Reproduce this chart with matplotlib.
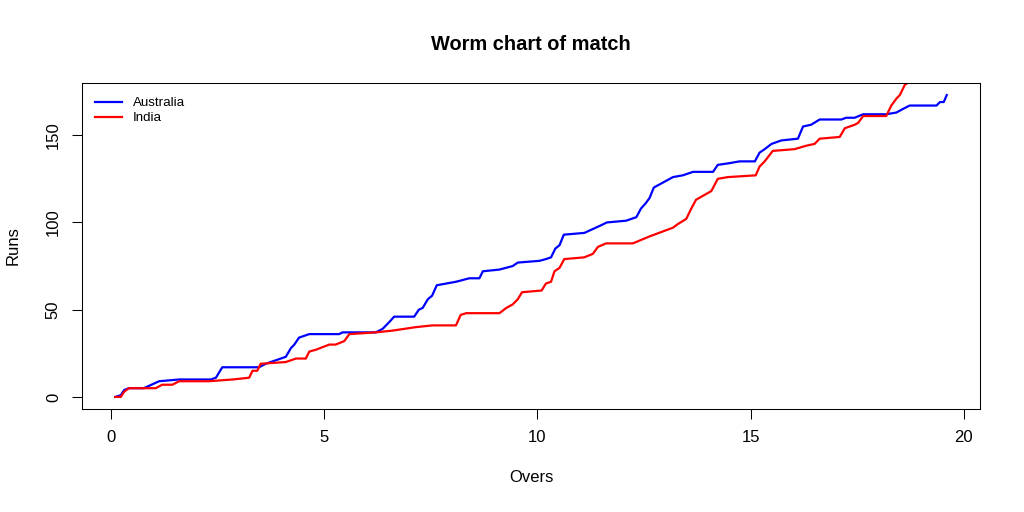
import matplotlib
matplotlib.use("Agg")
import matplotlib.pyplot as plt

plt.rcParams["font.family"] = ["Liberation Sans", "DejaVu Sans"]

aus_overs = [0.1, 0.23, 0.31, 0.42, 0.77, 0.95, 1.13, 1.6, 2.34, 2.46, 2.61, 3.47, 3.63, 4.1,
             4.22, 4.3, 4.41, 4.65, 5.35, 5.43, 6.21, 6.37, 6.53, 6.64, 7.11, 7.22, 7.31, 7.43,
             7.53, 7.64, 8.09, 8.25, 8.40, 8.64, 8.72, 9.11, 9.42, 9.54, 10.05, 10.2, 10.32,
             10.42, 10.52, 10.62, 11.1, 11.46, 11.63, 12.08, 12.32, 12.43, 12.54, 12.63, 12.73,
             13.18, 13.41, 13.65, 14.12, 14.23, 14.51, 14.74, 15.1, 15.21, 15.33, 15.49, 15.72,
             16.11, 16.23, 16.42, 16.62, 17.13, 17.24, 17.44, 17.64, 18.18, 18.42, 18.57, 18.73,
             19.36, 19.44, 19.53, 19.6]
aus_runs = [0, 1, 4, 5, 5, 7, 9, 10, 10, 11, 17, 17, 19, 23,
            28, 30, 34, 36, 36, 37, 37, 39, 43, 46, 46, 50, 51, 56,
            58, 64, 66, 67, 68, 68, 72, 73, 75, 77, 78, 79, 80,
            85, 87, 93, 94, 98, 100, 101, 103, 108, 111, 114, 120,
            126, 127, 129, 129, 133, 134, 135, 135, 140, 142, 145, 147,
            148, 155, 156, 159, 159, 160, 160, 162, 162, 163, 165, 167,
            167, 169, 169, 173]

ind_overs = [0.1, 0.23, 0.31, 0.42, 1.05, 1.2, 1.44, 1.6, 2.3, 2.85, 3.24, 3.32, 3.43, 3.51,
             4.1, 4.34, 4.57, 4.65, 4.8, 5.12, 5.27, 5.47, 5.59, 6.21, 6.6, 7.15, 7.54, 8.09,
             8.2, 8.33, 9.11, 9.27, 9.42, 9.54, 9.64, 10.1, 10.2, 10.32, 10.4, 10.52, 10.63,
             11.1, 11.3, 11.42, 11.61, 12.24, 12.63, 13.18, 13.29, 13.49, 13.61, 13.72, 14.08,
             14.23, 14.47, 15.12, 15.21, 15.33, 15.52, 16.03, 16.31, 16.5, 16.62, 17.09, 17.21,
             17.44, 17.52, 17.64, 18.18, 18.3, 18.42, 18.5, 18.62, 18.69, 18.92, 19.1]
ind_runs = [0, 0, 3, 5, 5, 7, 7, 9, 9, 10, 11, 15, 15, 19,
            20, 22, 22, 26, 27, 30, 30, 32, 36, 37, 38, 40, 41, 41,
            47, 48, 48, 51, 53, 56, 60, 61, 65, 66, 72, 74, 79,
            80, 82, 86, 88, 88, 92, 97, 99, 102, 108, 113, 118,
            125, 126, 127, 132, 135, 141, 142, 144, 145, 148, 149, 154,
            156, 157, 161, 161, 167, 171, 173, 179, 180, 181, 184]

teams = ["Australia", "India"]
colors = ["#0000FF", "#FF0000"]

fig = plt.figure(figsize=(10.24, 5.12), dpi=100)
ax = fig.add_axes([82/1024, 1-409/512, (980-82)/1024, (409-83)/512])

ax.plot(aus_overs, aus_runs, color=colors[0], lw=1.6, label=teams[0], solid_joinstyle="round")
ax.plot(ind_overs, ind_runs, color=colors[1], lw=1.6, label=teams[1], solid_joinstyle="round")

xr = max(aus_overs) - min(aus_overs)
ax.set_xlim(min(aus_overs) - 0.04*xr, max(aus_overs) + 0.04*xr)
yr = max(aus_runs) - min(aus_runs)
ax.set_ylim(min(aus_runs) - 0.04*yr, max(aus_runs) + 0.04*yr)

ax.set_xticks([0, 5, 10, 15, 20])
ax.set_yticks([0, 50, 100, 150])
ax.tick_params(direction="out", length=7.2, width=0.75, labelsize=12, pad=8, colors="black")
for lab in ax.get_yticklabels():
    lab.set_rotation(90)
    lab.set_va("center")
for s in ax.spines.values():
    s.set_linewidth(0.75)

ax.set_xlabel("Overs", fontsize=12, labelpad=18)
ax.set_ylabel("Runs", fontsize=12, labelpad=18)
fig.text((82+980)/2/1024, 1-44/512, "Worm chart of match", ha="center", va="center",
         fontsize=14.4, fontweight="bold")

ax.legend(loc="upper left", frameon=False, fontsize=9.6, handlelength=2.0,
          bbox_to_anchor=(95/1024, 1-97/512), bbox_transform=fig.transFigure,
          borderaxespad=0, borderpad=0, labelspacing=0.2, handletextpad=0.85)

fig.savefig("out.png", dpi=100)
